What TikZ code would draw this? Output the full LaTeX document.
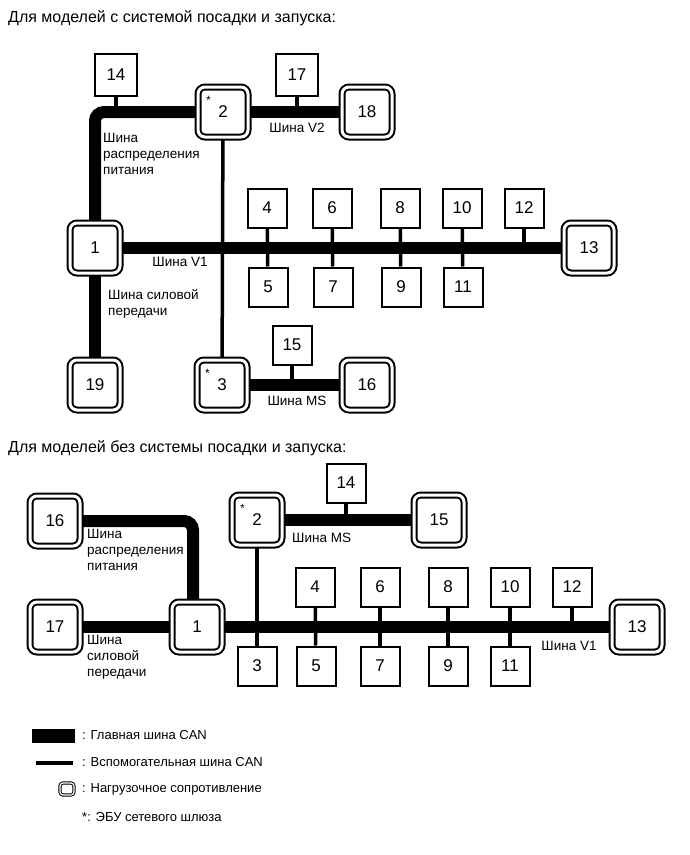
\documentclass[tikz,border=0pt]{standalone}
\usepackage{fontspec}
\setmainfont{Liberation Sans}
\usetikzlibrary{positioning,calc,backgrounds}

\begin{document}
\begin{tikzpicture}[x=1pt, y=-1pt,
  ecu/.style={
    draw, line width=2pt, fill=white, inner sep=0pt,
    minimum size=39pt, font=\fontsize{17}{17}\selectfont
  },
  term/.style={
    draw, line width=2pt, double, double distance=3pt,
    rounded corners=7pt, fill=white, inner sep=0pt,
    minimum size=50pt, font=\fontsize{17}{17}\selectfont
  },
  mainbus/.style={line width=12pt},
  subbus/.style={line width=3.5pt},
  lbl/.style={font=\fontsize{13.5}{16}\selectfont, align=left, inner sep=0pt},
  ttl/.style={font=\fontsize{16}{18}\selectfont, anchor=west, inner sep=0pt},
  gw/.style={font=\fontsize{12}{12}\selectfont, inner sep=0pt},
  leg/.style={font=\fontsize{13}{13}\selectfont, inner sep=0pt, anchor=west}
]
\useasboundingbox (0,0) rectangle (690,855);

% --- with smart key system
\node[ttl] (t1) at (8,18) {Для моделей с системой посадки и запуска:};

\node[term] (a1)  at (95,248)  {1};
\node[term] (a2)  at (223,112) {2};
\node[term] (a3)  at (222,385) {3};
\node[term] (a13) at (589,248) {13};
\node[term] (a16) at (367,385) {16};
\node[term] (a18) at (367,112) {18};
\node[term] (a19) at (95,385)  {19};
\node[ecu] (a4)  at (267,208) {4};
\node[ecu] (a5)  at (268,287) {5};
\node[ecu] (a6)  at (332,208) {6};
\node[ecu] (a7)  at (333,287) {7};
\node[ecu] (a8)  at (400,208) {8};
\node[ecu] (a9)  at (401,287) {9};
\node[ecu] (a10) at (462,208) {10};
\node[ecu] (a11) at (463,287) {11};
\node[ecu] (a12) at (524,208) {12};
\node[ecu, minimum size=42pt] (a14) at (116,75) {14};
\node[ecu] (a15) at (292,345) {15};
\node[ecu, minimum size=42pt] (a17) at (297,75) {17};

\node[gw] (s2) at ([shift={(11.5pt,-14.5pt)}]a2.north west) {*};
\node[gw] (s3) at ([shift={(11.5pt,-14.5pt)}]a3.north west) {*};

\begin{scope}[on background layer]
\draw[mainbus, rounded corners=9pt] (a1.center) |- (a2.center);
\draw[mainbus] (a2.center) -- (a18.center);
\draw[mainbus] (a1.center) -- (a13.center);
\draw[mainbus] (a1.center) -- (a19.center);
\draw[mainbus] (a3.center) -- (a16.center);
\draw[subbus] (a2) -- (a3);
\draw[subbus] (a4) -- (a5);
\draw[subbus] (a6) -- (a7);
\draw[subbus] (a8) -- (a9);
\draw[subbus] (a10) -- (a11);
\draw[subbus] (a12) -- (a12 |- a13);
\draw[subbus] (a14) -- (a14 |- a2);
\draw[subbus] (a17) -- (a17 |- a18);
\draw[subbus] (a15) -- (a15 |- a16);
\end{scope}

\node[lbl, anchor=north west] at (103,133) {Шина\\распределения\\питания};
\node[lbl] at (180,262) {Шина V1};
\node[lbl, anchor=north west] at (108,289) {Шина силовой\\передачи};
\node[lbl] at (297,128) {Шина V2};
\node[lbl] at (297,401) {Шина MS};

% --- without smart key system
\node[ttl] (t2) at (8,448) {Для моделей без системы посадки и запуска:};

\node[term] (b1)  at (197,627) {1};
\node[term] (b2)  at (257,520) {2};
\node[term] (b13) at (637,627) {13};
\node[term] (b15) at (439,520) {15};
\node[term] (b16) at (55,521)  {16};
\node[term] (b17) at (55,627)  {17};
\node[ecu] (b3)  at (257,666) {3};
\node[ecu] (b4)  at (315,587) {4};
\node[ecu] (b5)  at (316,666) {5};
\node[ecu] (b6)  at (380,587) {6};
\node[ecu] (b7)  at (380,666) {7};
\node[ecu] (b8)  at (448,587) {8};
\node[ecu] (b9)  at (448,666) {9};
\node[ecu] (b10) at (510,587) {10};
\node[ecu] (b11) at (510,666) {11};
\node[ecu] (b12) at (572,587) {12};
\node[ecu] (b14) at (346,483) {14};

\node[gw] (s4) at ([shift={(11.5pt,-14.5pt)}]b2.north west) {*};

\begin{scope}[on background layer]
\draw[mainbus, rounded corners=9pt] (b16.center) -| ([xshift=-4pt]b1.center);
\draw[mainbus] (b17.center) -- (b13.center);
\draw[mainbus] (b2.center) -- (b15.center);
\draw[subbus] (b2) -- (b3);
\draw[subbus] (b4) -- (b5);
\draw[subbus] (b6) -- (b7);
\draw[subbus] (b8) -- (b9);
\draw[subbus] (b10) -- (b11);
\draw[subbus] (b12) -- (b12 |- b13);
\draw[subbus] (b14) -- (b14 |- b15);
\end{scope}

\node[lbl, anchor=north west] at (87,529) {Шина\\распределения\\питания};
\node[lbl, anchor=north west] at (87,635) {Шина\\силовой\\передачи};
\node[lbl, anchor=west] at (292,538) {Шина MS};
\node[lbl] at (569,646) {Шина V1};

% --- legend
\fill (32,729) rectangle (75,743);
\fill (36,761) rectangle (73,765);
\node[draw, line width=1pt, double, double distance=1.2pt, rounded corners=3pt,
  minimum width=14pt, minimum height=12pt, inner sep=0pt] (lt) at (67,789) {};
\node[leg] (l1) at (82,735) {: Главная шина CAN};
\node[leg] (l2) at (82,762) {: Вспомогательная шина CAN};
\node[leg] (l3) at (82,789) {: Нагрузочное сопротивление};
\node[leg] (l4) at (82,817) {*: ЭБУ сетевого шлюза};

\end{tikzpicture}
\end{document}
